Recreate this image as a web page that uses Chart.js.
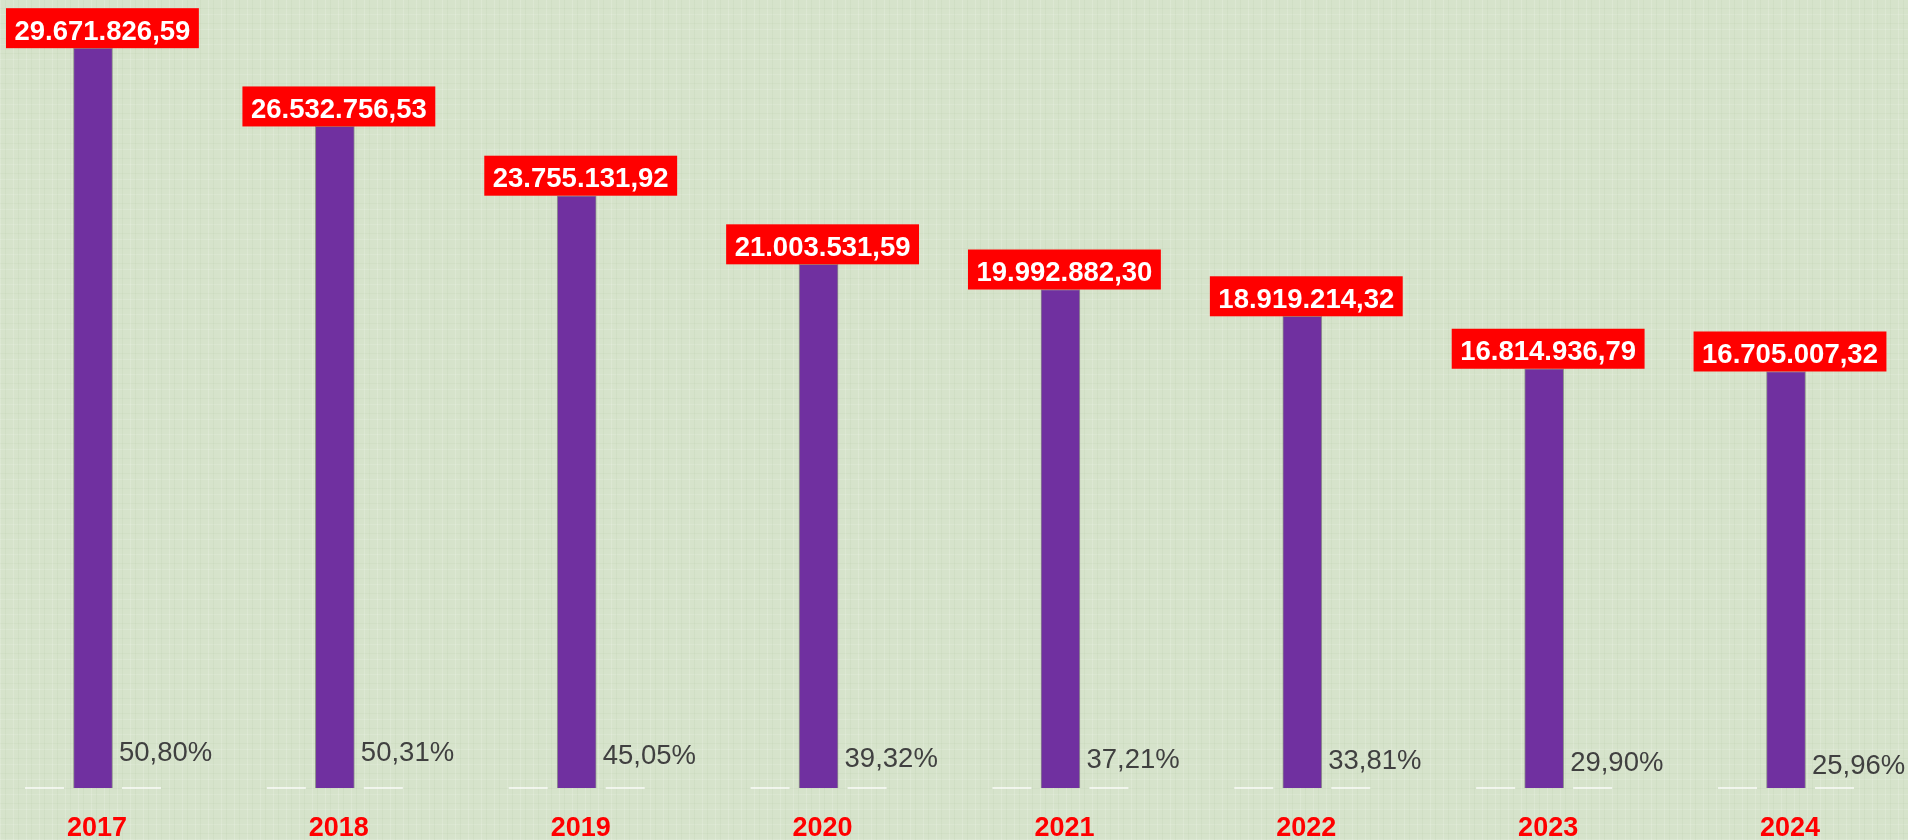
<!DOCTYPE html>
<html>
<head>
<meta charset="utf-8">
<script src="https://cdn.jsdelivr.net/npm/chart.js@4.4.1/dist/chart.umd.min.js"></script>
<style>
  html, body { margin: 0; padding: 0; }
  body {
    width: 1908px; height: 840px; overflow: hidden;
    background-color: #d6e3cb;
    background-image:
      repeating-linear-gradient(90deg, rgba(255,255,255,0.16) 0 1px, transparent 1px 5px, rgba(140,170,120,0.08) 5px 6px, transparent 6px 13px),
      repeating-linear-gradient(0deg, rgba(255,255,255,0.13) 0 1px, transparent 1px 6px, rgba(140,170,120,0.07) 6px 7px, transparent 7px 15px);
  }
  #wrap { position: relative; width: 1908px; height: 840px; }
</style>
</head>
<body>
<div id="wrap"><canvas id="chart" width="1908" height="840"></canvas></div>
<script>
// data
var years    = ['2017', '2018', '2019', '2020', '2021', '2022', '2023', '2024'];
var totals   = [29671826.59, 26532756.53, 23755131.92, 21003531.59, 19992882.30, 18919214.32, 16814936.79, 16705007.32];
var percents = [50.80, 50.31, 45.05, 39.32, 37.21, 33.81, 29.90, 25.96];

var FONT = '"Liberation Sans", Arial, sans-serif';
Chart.defaults.font.family = FONT;

// 29671826.59 -> "29.671.826,59"
function fmtBR(v) {
    var parts = v.toFixed(2).split('.');
    var ent = parts[0].replace(/\B(?=(\d{3})+(?!\d))/g, '.');
    return ent + ',' + parts[1];
}

function fmtPct(p) {
    return p.toFixed(2).replace('.', ',') + '%';
}

var barLabels = {
    id: 'barLabels',
    beforeDatasetsDraw: function(chart) {
        // short white baseline pieces on both sides of every bar
        var ctx = chart.ctx;
        var y = chart.chartArea.bottom;
        ctx.save();
        ctx.strokeStyle = 'rgba(255,255,255,0.9)';
        ctx.lineWidth = 1.5;
        chart.getDatasetMeta(0).data.forEach(function(bar) {
            ctx.beginPath();
            ctx.moveTo(bar.x - 68, y); ctx.lineTo(bar.x - 29, y);
            ctx.moveTo(bar.x + 29, y); ctx.lineTo(bar.x + 68, y);
            ctx.stroke();
        });
        ctx.restore();
    },
    afterDatasetsDraw: function(chart) {
        var ctx = chart.ctx;
        ctx.save();

        // value boxes on top of the bars
        ctx.font = 'bold 27.5px ' + FONT;
        chart.getDatasetMeta(0).data.forEach(function(bar, i) {
            var txt = fmtBR(totals[i]);
            var w = ctx.measureText(txt).width + 17;
            var h = 40;
            var left = Math.max(6, bar.x + 4 - w / 2);
            var bottom = bar.y;
            ctx.fillStyle = '#FF0000';
            ctx.fillRect(left, bottom - h, w, h);
            ctx.fillStyle = '#FFFFFF';
            ctx.textAlign = 'center';
            ctx.textBaseline = 'alphabetic';
            ctx.fillText(txt, left + w / 2, bottom - 8.5);
        });

        // percentages next to the bar foot
        ctx.font = '27.5px ' + FONT;
        ctx.fillStyle = '#404040';
        ctx.textAlign = 'left';
        chart.getDatasetMeta(1).data.forEach(function(pt, i) {
            ctx.fillText(fmtPct(percents[i]), pt.x + 26, pt.y + 10);
        });

        ctx.restore();
    }
};

new Chart(document.getElementById('chart').getContext('2d'), {
    type: 'bar',
    data: {
        labels: years,
        datasets: [
            {
                label: 'Total',
                data: totals,
                yAxisID: 'y',
                backgroundColor: '#7030A0',
                borderColor: 'rgba(125,125,125,0.8)',
                borderWidth: 1,
                barThickness: 39,
                clip: false
            },
            {
                type: 'line',
                label: '%',
                data: percents,
                yAxisID: 'y2',
                showLine: false,
                pointRadius: 0,
                clip: false
            }
        ]
    },
    options: {
        responsive: false,
        animation: false,
        layout: { padding: { left: 93, right: 122, top: 40, bottom: 1 } },
        plugins: {
            legend: { display: false },
            tooltip: { enabled: false }
        },
        scales: {
            x: {
                offset: false,
                grid: { display: false },
                border: { display: false },
                ticks: {
                    color: '#FF0000',
                    font: { size: 27, weight: 'bold', lineHeight: 1 },
                    padding: 19,
                    labelOffset: 4,
                    maxRotation: 0,
                    autoSkip: false
                },
                afterFit: function(scale) { scale.height = 51; }
            },
            y: { display: false, min: 0, max: 30000000 },
            y2: { display: false, min: -21, max: 1415 }
        }
    },
    plugins: [barLabels]
});
</script>
</body>
</html>
